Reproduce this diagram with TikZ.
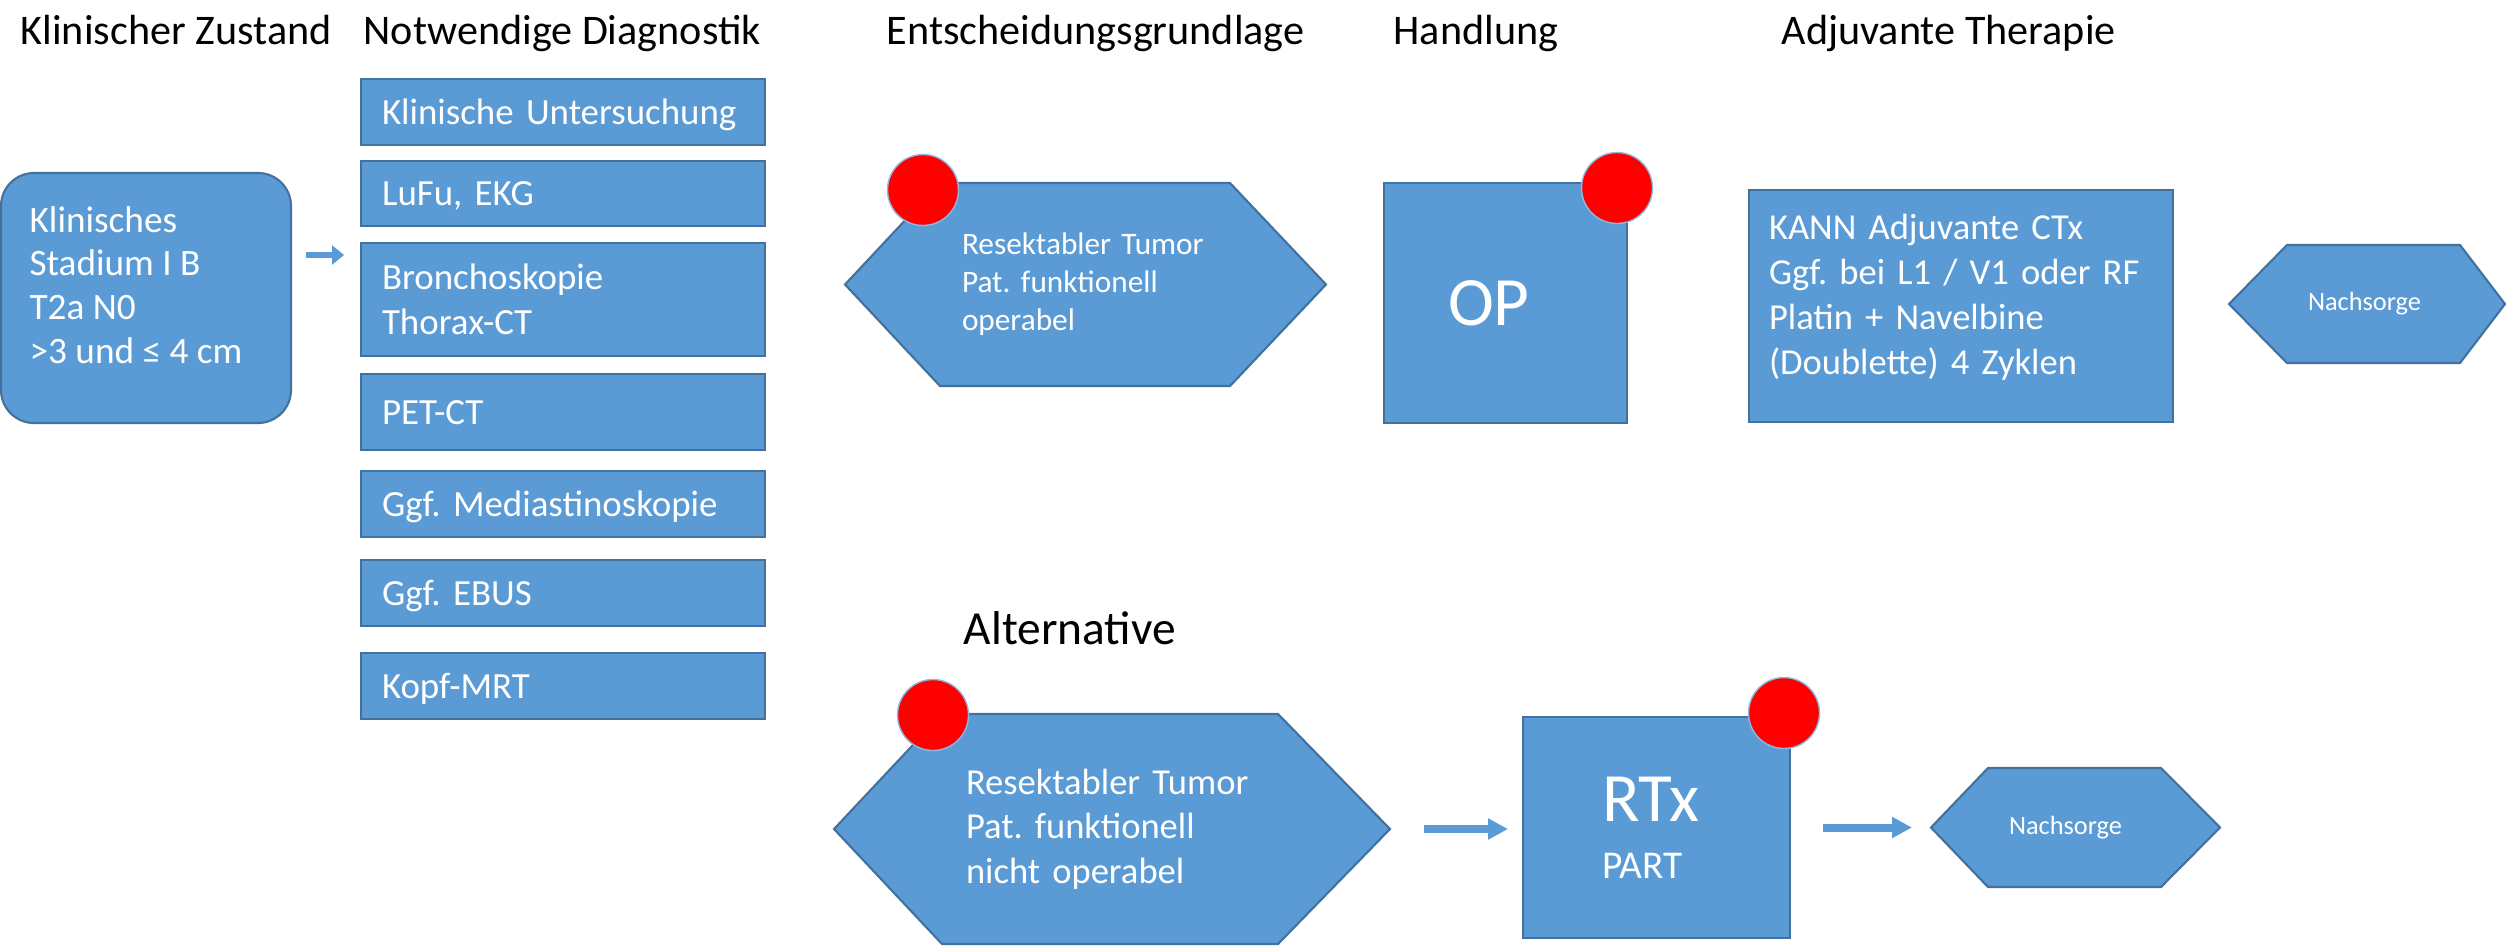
\documentclass[tikz,border=0pt]{standalone}
\usepackage{fontspec}
\setmainfont{Carlito}
\usepackage{tikz}
\usetikzlibrary{positioning,arrows.meta,backgrounds}

\definecolor{boxblue}{RGB}{91,155,213}
\definecolor{boxedge}{RGB}{65,113,156}
\definecolor{dotedge}{RGB}{140,185,225}

\tikzset{
  box/.style={draw=boxedge, fill=boxblue, line width=0.6pt, text=white, align=left, outer sep=0pt},
  diag/.style={box, minimum width=40.4mm, text width=36.2mm, inner xsep=2.1mm, font=\fontsize{10.5pt}{12.8pt}\selectfont},
  diagone/.style={diag, minimum height=6.6mm, text height=2.4mm, text depth=0pt},
  hexbody/.style={text=white, outer sep=0pt},
  hexfill/.style={draw=boxedge, fill=boxblue, line width=0.6pt},
  head/.style={anchor=base west, inner sep=0pt, font=\fontsize{12pt}{14pt}\selectfont},
  reddot/.style={circle, fill=red, draw=dotedge, line width=0.4pt, minimum size=7.1mm, inner sep=0pt},
  blockarr/.style={draw=boxblue, line width=0.8mm, -{Triangle[length=2mm,width=2mm]}},
  smallarr/.style={draw=boxblue, line width=0.6mm, -{Triangle[length=1.2mm,width=1.9mm]}},
}

\begin{document}
\frenchspacing
\begin{tikzpicture}[x=0.1mm, y=-0.1mm]
    \useasboundingbox (0,0) rectangle (2506,948);

    % Column headings
    \node [head] (hzust) at (20,44) {Klinischer Zustand};
    \node [head] (hdiag) at (363,44) {Notwendige Diagnostik};
    \node [head] (hent) at (886,44) {Entscheidungsgrundlage};
    \node [head] (hhand) at (1393,44) {Handlung};
    \node [head] (hadj) at (1781,44) {Adjuvante Therapie};
    \node [head, font=\fontsize{13.5pt}{16pt}\selectfont] (halt) at (963,644) {Alternative};

    % Clinical state
    \node [box, rounded corners=3.3mm, minimum width=29mm, minimum height=25mm,
           font=\fontsize{10.6pt}{12.5pt}\selectfont] (stadium) at (146,298)
          {Klinisches\\Stadium I B\\T2a N0\\>3 und ≤ 4 cm\rule{2mm}{0pt}\rule[-2.6mm]{0pt}{0pt}};

    % Diagnostics
    \node [diagone] (klin) at (563,112) {Klinische Untersuchung};
    \node [diagone, minimum height=6.5mm] (lufu) at (563,193.5) {LuFu, EKG};
    \node [diag, minimum height=11.3mm] (bronch) at (563,299.5) {Bronchoskopie\\Thorax-CT};
    \node [diagone, minimum height=7.6mm] (pet) at (563,412) {PET-CT};
    \node [diagone] (media) at (563,504) {Ggf. Mediastinoskopie};
    \node [diagone] (ebus) at (563,593) {Ggf. EBUS};
    \node [diagone] (mrt) at (563,686) {Kopf-MRT};

    % Decision, action, adjuvant therapy
    \node [hexbody, minimum width=29mm, minimum height=20.3mm, text width=24.6mm, inner xsep=2.2mm, align=left,
           font=\fontsize{8.9pt}{10.8pt}\selectfont] (ent) at (1085,284.5)
          {Resektabler Tumor\\Pat. funktionell\\operabel};
    \node [box, minimum width=24.3mm, minimum height=24mm, text width=11.5mm, inner xsep=6.4mm,
           font=\fontsize{19.7pt}{23.6pt}\selectfont] (op) at (1505.5,303) {OP};
    \node [box, minimum width=42.4mm, minimum height=23.2mm, text width=38.4mm, inner xsep=2mm,
           font=\fontsize{10.4pt}{12.8pt}\selectfont] (adj) at (1961,306)
          {KANN Adjuvante CTx\\Ggf. bei L1 / V1 oder RF\\Platin + Navelbine\\(Doublette) 4 Zyklen\rule[-2.4mm]{0pt}{0pt}};
    \node [hexbody, minimum width=17.3mm, minimum height=11.8mm, font=\fontsize{7.5pt}{9pt}\selectfont] (nach1) at (2373.5,304) {Nachsorge\rule{1.8mm}{0pt}};

    % Alternative path
    \node [hexbody, minimum width=33.6mm, minimum height=23mm, text width=28.8mm, inner xsep=2.4mm, align=left,
           font=\fontsize{10.4pt}{12.7pt}\selectfont] (alt) at (1110,829)
          {Resektabler Tumor\\Pat. funktionell\\nicht operabel};
    \node [box, minimum width=26.7mm, minimum height=22.1mm, text width=10.9mm, inner xsep=7.9mm,
           font=\fontsize{11.2pt}{13.4pt}\selectfont] (rtx) at (1656.5,827.5)
          {{\fontsize{19.7pt}{23.6pt}\selectfont RTx}\\[2.8pt]PART};
    \node [hexbody, minimum width=17.3mm, minimum height=11.9mm, font=\fontsize{7.5pt}{9pt}\selectfont] (nach2) at (2074.5,827.5) {Nachsorge\rule{1.8mm}{0pt}};

    % Hexagon outlines
    \begin{scope}[on background layer]
        \draw [hexfill] (ent.north west) -- (ent.north east) -- ([xshift=9.6mm]ent.east) -- (ent.south east) -- (ent.south west) -- ([xshift=-9.5mm]ent.west) -- cycle;
        \draw [hexfill] (nach1.north west) -- (nach1.north east) -- ([xshift=4.5mm]nach1.east) -- (nach1.south east) -- (nach1.south west) -- ([xshift=-5.8mm]nach1.west) -- cycle;
        \draw [hexfill] (alt.north west) -- (alt.north east) -- ([xshift=11.2mm]alt.east) -- (alt.south east) -- (alt.south west) -- ([xshift=-10.8mm]alt.west) -- cycle;
        \draw [hexfill] (nach2.north west) -- (nach2.north east) -- ([xshift=5.9mm]nach2.east) -- (nach2.south east) -- (nach2.south west) -- ([xshift=-5.7mm]nach2.west) -- cycle;
    \end{scope}

    % Red markers
    \node [reddot] (dot1) at (923,190) {};
    \node [reddot] (dot2) at (1617,188) {};
    \node [reddot] (dot3) at (933,715) {};
    \node [reddot] (dot4) at (1784,713) {};

    % Arrows
    \coordinate (kick) at ([yshift=4.3mm]stadium.east);
    \draw [smallarr, shorten <=1.5mm, shorten >=1.7mm] (kick) -- (kick -| bronch.west);
    \draw [blockarr, shorten <=14.6mm, shorten >=1.5mm] (alt.east) -- (alt.east -| rtx.west);
    \draw [blockarr, shorten <=3.3mm, shorten >=7.6mm] (rtx.east) -- (rtx.east -| nach2.west);
\end{tikzpicture}
\end{document}
